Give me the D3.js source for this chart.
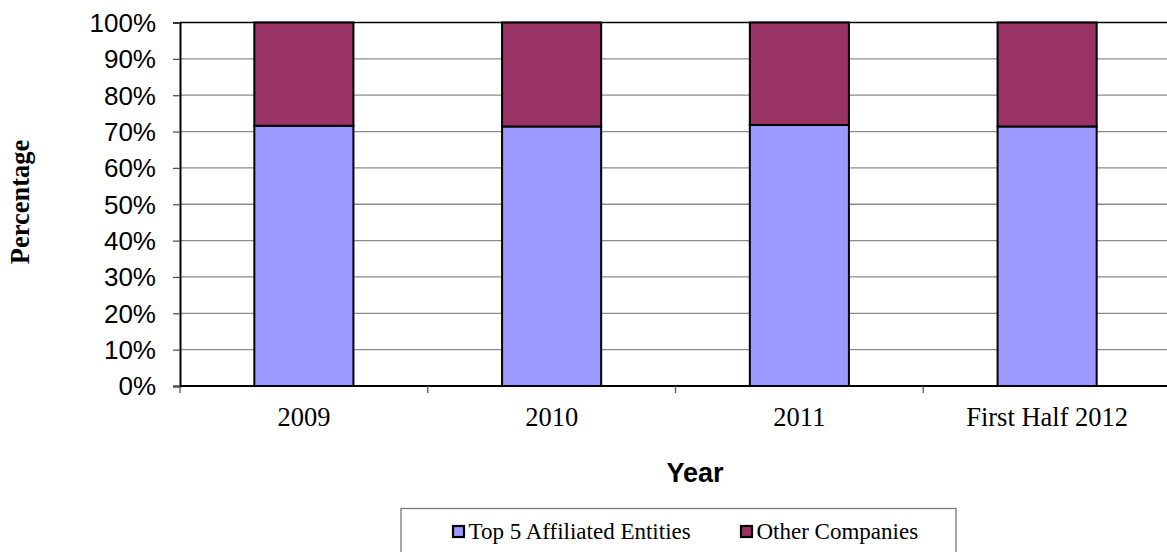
<!DOCTYPE html>
<html>
<head>
<meta charset="utf-8">
<script src="https://cdn.jsdelivr.net/npm/d3@7"></script>
<style>
  html, body { margin: 0; padding: 0; background: #fff; }
  svg { display: block; }
</style>
</head>
<body>
<svg id="chart" width="1167" height="552"></svg>
<script>
// Share of total by year (percent)
const categories = ["2009", "2010", "2011", "First Half 2012"];
const seriesNames = ["Top 5 Affiliated Entities", "Other Companies"];
const top5 = [71.6, 71.4, 71.8, 71.4];
const others = [28.4, 28.6, 28.2, 28.6];
const yTicks = [0, 10, 20, 30, 40, 50, 60, 70, 80, 90, 100];
const colors = ["#9999ff", "#993366"];

const svg = d3.select("#chart");
const plotLeft = 180, plotTop = 22.5, plotBottom = 386, plotRight = 1171;

const x = d3.scaleBand().domain(categories).range([plotLeft, plotRight]).paddingInner(0.6).paddingOuter(0.3);
const xOuter = d3.scaleBand().domain(categories).range([plotLeft, plotRight]);
const y = d3.scaleLinear().domain([0, 100]).range([plotBottom, plotTop]);

// Gridlines
svg.append("g").selectAll("line").data(yTicks.filter(t => t > 0 && t < 100)).join("line")
  .attr("x1", plotLeft).attr("x2", plotRight)
  .attr("y1", d => y(d)).attr("y2", d => y(d))
  .attr("stroke", "#8c8c8c").attr("stroke-width", 1.3);

// Top border
svg.append("line").attr("x1", plotLeft).attr("x2", plotRight)
  .attr("y1", y(100)).attr("y2", y(100))
  .attr("stroke", "#000").attr("stroke-width", 1.6);

// Stacked bars
const rows = categories.map((c, i) => ({ cat: c, vals: [top5[i], others[i]] }));
const stack = d3.stack().keys([0, 1]).value((d, k) => d.vals[k]);
const layers = stack(rows);
layers.forEach((layer, k) => {
  svg.append("g").selectAll("rect").data(layer).join("rect")
    .attr("x", d => x(d.data.cat))
    .attr("width", x.bandwidth())
    .attr("y", d => y(d[1]))
    .attr("height", d => y(d[0]) - y(d[1]))
    .attr("fill", colors[k])
    .attr("stroke", "#000").attr("stroke-width", 2);
});

// Y axis
const yAxis = d3.axisLeft(y).tickValues(yTicks).tickFormat(d => d + "%").tickSize(7).tickPadding(17);
const gy = svg.append("g").attr("transform", `translate(${plotLeft},0)`).call(yAxis);
gy.select(".domain").attr("stroke", "#000").attr("stroke-width", 2);
gy.selectAll(".tick line").attr("stroke", "#555").attr("stroke-width", 1.3);
gy.selectAll(".tick text").attr("font-family", "Liberation Sans, Arial, sans-serif")
  .attr("font-size", 26).attr("fill", "#000").attr("dy", "0.34em");

// X axis: ticks on category boundaries
const gx = svg.append("g").attr("transform", `translate(0,${plotBottom})`);
gx.append("line").attr("x1", plotLeft).attr("x2", plotRight).attr("y1", 0).attr("y2", 0)
  .attr("stroke", "#000").attr("stroke-width", 2);
gx.selectAll("line.tk").data(categories).join("line").attr("class", "tk")
  .attr("x1", d => xOuter(d)).attr("x2", d => xOuter(d))
  .attr("y1", 0).attr("y2", 7).attr("stroke", "#555").attr("stroke-width", 1.3);
gx.selectAll("text").data(categories).join("text")
  .attr("x", d => x(d) + x.bandwidth() / 2).attr("y", 40)
  .attr("text-anchor", "middle")
  .attr("font-family", "Liberation Serif, Times New Roman, serif")
  .attr("font-size", 26.5).attr("fill", "#000")
  .text(d => d);

// Axis titles
svg.append("text").attr("transform", "translate(29,202) rotate(-90)")
  .attr("text-anchor", "middle")
  .attr("font-family", "Liberation Serif, Times New Roman, serif")
  .attr("font-weight", "bold").attr("font-size", 26.5)
  .text("Percentage");
svg.append("text").attr("x", 695).attr("y", 482)
  .attr("text-anchor", "middle")
  .attr("font-family", "Liberation Sans, Arial, sans-serif")
  .attr("font-weight", "bold").attr("font-size", 27)
  .text("Year");

// Legend
const lg = svg.append("g");
lg.append("rect").attr("x", 401).attr("y", 508.5).attr("width", 555).attr("height", 60)
  .attr("fill", "#fff").attr("stroke", "#777").attr("stroke-width", 1.3);
const legendX = [453, 741];
seriesNames.forEach((name, i) => {
  lg.append("rect").attr("x", legendX[i]).attr("y", 526).attr("width", 11).attr("height", 11)
    .attr("fill", colors[i]).attr("stroke", "#000").attr("stroke-width", 2.2);
  lg.append("text").attr("x", legendX[i] + 15.5).attr("y", 539)
    .attr("font-family", "Liberation Serif, Times New Roman, serif")
    .attr("font-size", 23).attr("fill", "#000")
    .text(name);
});
</script>
</body>
</html>
